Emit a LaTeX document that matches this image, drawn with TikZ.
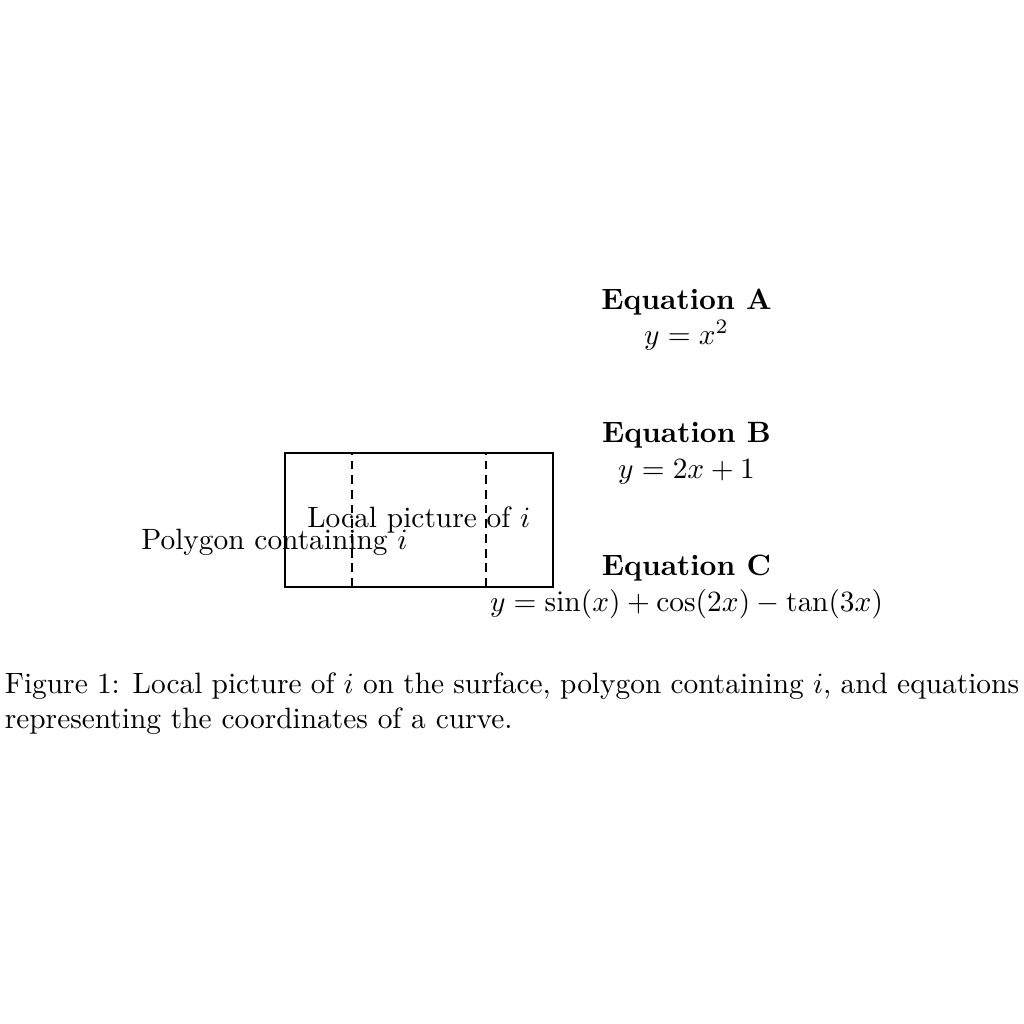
\documentclass[tikz,border=0pt]{standalone}
\usepackage{amsmath}
\begin{document}
\begin{tikzpicture}[
  frame/.style={draw, thick},
  divider/.style={draw, thick, densely dashed},
  lbl/.style={inner sep=0pt},
  eqn/.style={align=center, inner sep=0pt}
]
\useasboundingbox (-96.94pt,-148.64pt) rectangle (251.36pt,199.66pt);
% polygon / local picture
\coordinate (bl) at (0,0);
\coordinate (tr) at (3.2,1.6);
\path[frame] (bl) rectangle (tr);
\coordinate (d1b) at (0.8,0);
\coordinate (d1t) at (0.8,1.6);
\coordinate (d2b) at (2.4,0);
\coordinate (d2t) at (2.4,1.6);
\draw[divider] (d1b) -- (d1t);
\draw[divider] (d2b) -- (d2t);
\node[lbl] (local) at (1.6,0.8) {Local picture of $i$};
\node[lbl] (poly) at (-0.126,0.53) {Polygon containing $i$};
% equations
\node[eqn] (eqA) at (4.8,3.2) {\textbf{Equation A}\\ $y = x^2$};
\node[eqn] (eqB) at (4.8,1.6) {\textbf{Equation B}\\ $y = 2x + 1$};
\node[eqn] (eqC) at (4.8,0) {\textbf{Equation C}\\ $y = \sin(x) + \cos(2x) - \tan(3x)$};
% caption
\node[anchor=base west, inner sep=0pt, text width=345pt, align=justify] (cap) at (-95.5pt,-36.2pt)
  {Figure 1: Local picture of $i$ on the surface, polygon containing $i$, and equations representing the coordinates of a curve.};
\end{tikzpicture}
\end{document}
